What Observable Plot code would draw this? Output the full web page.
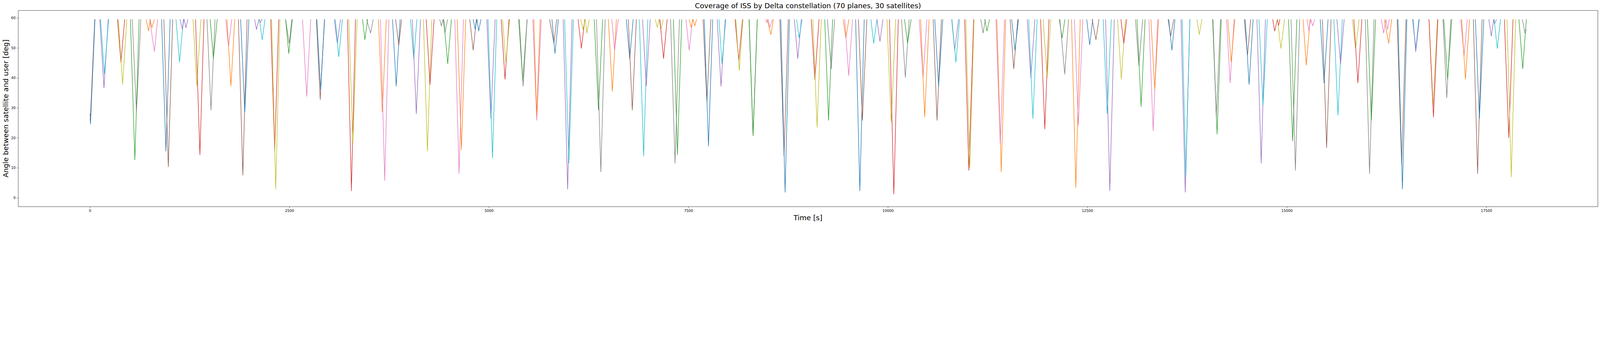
<!DOCTYPE html>
<html>
<head>
<meta charset="utf-8">
<script src="https://cdn.jsdelivr.net/npm/d3@7"></script>
<script src="https://cdn.jsdelivr.net/npm/@observablehq/plot@0.6"></script>
<style>
html, body { margin: 0; padding: 0; background: #fff; }
svg { display: block; font-family: "DejaVu Sans", sans-serif; }
</style>
</head>
<body>
<div id="chart"></div>
<script>
// ---- texts ----
const titleText = "Coverage of ISS by Delta constellation (70 planes, 30 satellites)";
const xLabelText = "Time [s]";
const yLabelText = "Angle between satellite and user [deg]";

// ---- ticks ----
const xTicks = [0, 2500, 5000, 7500, 10000, 12500, 15000, 17500];
const yTicks = [0, 10, 20, 30, 40, 50, 60];

// ---- colour categories (matplotlib tab10 cycle) ----
const colorNames = ["blue", "orange", "green", "red", "purple", "brown", "pink", "gray", "olive", "cyan"];
const colorHex = ["#1f77b4", "#ff7f0e", "#2ca02c", "#d62728", "#9467bd", "#8c564b", "#e377c2", "#7f7f7f", "#bcbd22", "#17becf"];

// ---- visibility passes: the angle enters at the 60° rim, dips to a minimum, leaves at the rim ----
const rimAngle = 59.6;

const passColor = [
  "brown","blue","purple","cyan","red","olive","green","gray","orange","orange","pink","blue","brown","cyan","purple","purple","olive","red","gray","green","pink","orange","brown","blue","purple","purple","cyan","red","olive","gray","green","pink","brown","blue",
  "purple","cyan","red","olive","green","gray","orange","pink","blue","brown","cyan","purple","olive","red","gray","gray","green","pink","orange","brown","blue","blue","purple","cyan","red","olive","green","gray","pink","orange","brown","blue","purple","cyan","red","olive","olive","green","gray","orange","pink","blue","brown","cyan","purple",
  "olive","olive","red","gray","green","pink","orange","orange","brown","blue","purple","cyan","red","olive","gray","green","pink","pink","orange","brown","blue","purple","cyan","red","olive","green","gray","orange","pink","blue","brown","cyan","purple","olive","red","gray","green","pink","orange","brown","blue","purple","cyan","red","olive",
  "gray","green","orange","pink","brown","blue","purple","cyan","red","olive","green","gray","orange","pink","blue","brown","cyan","purple","olive","red","gray","green","pink","orange","brown","blue","purple","cyan","olive","green","gray","pink","orange","brown","blue","purple","cyan","red","red","olive",
  "green","gray","orange","pink","pink","blue","brown","cyan","purple","olive","red","gray","green","pink","pink","orange","brown","blue","cyan","purple","olive","red","gray","green","pink","orange","brown","blue","purple","purple","cyan","red","olive","green","gray"
];

const passStart = [
  0,0,121,131,343,354,505,528,702,750,747,896,924,1076,1126,1179,1290,1321,1465,1505,1700,1715,1859,1886,2061,2116,2121,2263,2275,2450,2450,2662,2836,2841,
  3060,3073,3225,3242,3414,3465,3614,3639,3790,3828,4015,4038,4177,4212,4381,4424,4432,4571,4601,4758,4801,4848,4972,4987,5152,5169,5371,5379,5548,5561,5758,5788,5929,5947,6116,6149,6205,6318,6346,6495,6538,6720,6745,6884,6924,
  7083,7131,7141,7275,7311,7467,7508,7556,7682,7697,7859,7881,8083,8093,8258,8260,8465,8497,8485,8644,8657,8826,8854,9038,9058,9207,9240,9437,9457,9594,9629,9785,9861,9987,10018,10169,10207,10391,10409,10566,10586,10798,10801,10960,10975,
  11162,11212,11364,11353,11530,11550,11745,11763,11912,11944,12146,12154,12300,12336,12490,12558,12697,12727,12876,12919,13101,13121,13270,13295,13510,13518,13672,13687,13871,14068,14073,14242,14258,14465,14477,14624,14649,14821,14881,14881,
  15020,15051,15202,15250,15298,15417,15444,15588,15626,15818,15838,15982,16008,16182,16240,16220,16381,16391,16573,16581,16780,16780,16955,16965,17177,17189,17336,17361,17530,17591,17596,17725,17758,17907,17950
];

const passMinTime = [
  3,5,174,179,386,407,561,581,732,775,806,950,980,1121,1157,1200,1338,1376,1515,1545,1735,1765,1914,1939,2086,2131,2157,2313,2326,2495,2490,2715,2884,2889,
  3098,3116,3275,3293,3444,3515,3662,3692,3836,3869,4056,4088,4227,4260,4402,4447,4482,4624,4654,4801,4826,4869,5023,5043,5200,5210,5422,5427,5598,5596,5813,5826,5985,6000,6157,6177,6225,6371,6401,6545,6573,6763,6795,6937,6970,
  7109,7154,7187,7331,7361,7508,7533,7578,7730,7750,7907,7919,8129,8136,8308,8309,8480,8520,8533,8697,8710,8869,8886,9083,9111,9255,9288,9472,9508,9647,9679,9821,9899,10040,10073,10217,10245,10439,10460,10614,10634,10836,10851,11013,11025,
  11192,11240,11419,11407,11576,11591,11790,11816,11965,11995,12182,12215,12354,12386,12528,12606,12747,12780,12924,12955,13144,13172,13323,13343,13543,13558,13725,13732,13902,14124,14114,14288,14301,14505,14525,14677,14700,14846,14894,14924,
  15071,15106,15242,15275,15323,15465,15497,15639,15672,15861,15889,16035,16058,16212,16260,16275,16437,16447,16616,16614,16831,16836,17003,17013,17220,17237,17389,17412,17561,17601,17636,17780,17811,17955,17982
];

const passMinAngle = [
  26.4,24.7,36.7,41.3,45.3,37.9,12.7,28.7,55.7,56.9,48.8,15.6,10.4,45.3,56.2,56.8,37.4,14.4,29.3,46.5,50.5,37.4,7.6,28.7,56.2,58.5,52.8,15.6,2.9,51.6,48.2,33.9,32.8,36.2,
  51.6,47.1,2.4,18.4,52.8,55.0,28.7,5.8,37.3,51.0,46.4,28.1,15.6,37.9,57.4,55.0,44.8,8.1,16.1,49.3,56.2,55.7,26.5,13.3,39.6,45.3,39.1,37.3,25.9,27.6,51.6,48.2,2.9,11.6,49.9,56.2,55.0,29.3,8.7,35.6,49.3,46.4,29.3,13.9,37.3,
  56.9,56.2,46.5,11.6,14.4,49.3,56.9,57.4,32.2,17.3,37.3,44.8,45.9,42.5,20.8,20.9,58.5,56.9,54.5,13.9,1.9,46.5,53.4,39.6,23.6,25.9,43.1,53.4,40.8,2.4,25.9,51.6,52.2,25.3,1.3,40.2,51.6,40.2,27.0,25.9,37.2,49.3,45.3,9.2,10.0,
  55.0,55.7,8.7,17.9,43.1,49.3,40.2,26.5,23.0,40.2,53.4,41.3,3.5,24.2,51.1,52.8,28.1,2.4,39.6,51.6,44.2,30.5,22.4,36.2,54.0,49.3,1.9,7.0,54.5,21.3,27.0,38.4,45.3,47.6,37.9,11.6,31.0,55.7,57.5,49.9,
  19.0,9.2,44.3,55.7,57.4,38.4,16.8,27.6,44.8,49.9,38.4,8.1,25.9,55.0,56.2,51.6,11.0,3.0,49.9,48.8,30.5,27.0,33.4,39.6,47.6,39.6,8.1,26.5,54.0,58.0,49.9,20.1,7.0,43.1,55.0
];

const passEnd = [
  58,61,227,232,434,460,614,636,755,806,846,1003,1035,1169,1174,1225,1389,1427,1566,1593,1775,1813,1967,1990,2116,2154,2192,2364,2379,2528,2535,2765,2937,2939,
  3139,3162,3326,3346,3477,3548,3712,3745,3886,3904,4096,4141,4283,4311,4424,4480,4528,4679,4707,4841,4848,4899,5076,5096,5250,5258,5477,5477,5654,5641,5848,5869,6040,6058,6200,6205,6255,6424,6455,6596,6619,6806,6846,6990,7020,
  7131,7184,7232,7386,7414,7551,7556,7601,7780,7803,7960,7967,8177,8182,8361,8362,8497,8551,8563,8750,8765,8914,8922,9136,9164,9306,9331,9510,9556,9702,9735,9861,9937,10096,10129,10265,10290,10487,10515,10669,10687,10884,10897,11073,11078,
  11220,11273,11475,11460,11626,11636,11841,11869,12018,12040,12217,12263,12409,12442,12566,12644,12798,12836,12975,12992,13192,13222,13379,13391,13581,13596,13783,13783,13934,14177,14167,14338,14346,14546,14576,14730,14753,14881,14912,14970,
  15124,15159,15290,15298,15348,15515,15553,15694,15717,15904,15939,16091,16111,16240,16283,16313,16492,16503,16652,16659,16886,16891,17053,17066,17260,17288,17445,17467,17591,17626,17677,17833,17866,18000,18000
];

// passes already in view at t = 0, and the one still in view when the run stops
const passStartAngle = { 0: 28.2, 1: 26.5 };
const passEndAngle = { 198: 56.3 };

// ---- build rows for the line mark (category keys prefixed so they are not read as CSS colours) ----
const rows = [];
passColor.forEach((c, i) => {
  const a0 = (i in passStartAngle) ? passStartAngle[i] : rimAngle;
  const a1 = (i in passEndAngle) ? passEndAngle[i] : rimAngle;
  const key = "tab:" + c;
  rows.push({ id: i, color: key, t: passStart[i], a: a0 });
  rows.push({ id: i, color: key, t: passMinTime[i], a: passMinAngle[i] });
  rows.push({ id: i, color: key, t: passEnd[i], a: a1 });
});

const W = 6280, H = 877;
const mL = 71.3, mR = 8.7, mT = 40.7, mB = 67;

const chart = Plot.plot({
  width: W,
  height: H,
  marginLeft: mL,
  marginRight: mR,
  marginTop: mT,
  marginBottom: mB,
  style: { fontFamily: "DejaVu Sans", fontSize: "13.9px", background: "#fff", color: "#000", overflow: "visible" },
  x: { domain: [-900, 18897], label: null },
  y: { domain: [-2.94, 62.54], label: null },
  color: { type: "ordinal", domain: colorNames.map(c => "tab:" + c), range: colorHex },
  marks: [
    Plot.line(rows, { x: "t", y: "a", z: "id", stroke: "color", strokeWidth: 2.08, strokeLinejoin: "round", strokeLinecap: "butt" }),
    Plot.frame({ stroke: "#000", strokeWidth: 1.1 }),
    Plot.axisX({ ticks: xTicks, tickSize: 4.9, tickPadding: 6, fontSize: 13.9, label: null, tickFormat: d => String(d), strokeWidth: 1.1 }),
    Plot.axisY({ ticks: yTicks, tickSize: 4.9, tickPadding: 5.4, fontSize: 13.9, label: null, tickFormat: d => String(d), strokeWidth: 1.1 })
  ]
});

document.getElementById("chart").appendChild(chart);

const svg = d3.select(chart);
const cx = mL + (W - mL - mR) / 2;
const cy = mT + (H - mT - mB) / 2;

svg.append("text")
  .attr("x", cx).attr("y", 32.4)
  .attr("text-anchor", "middle")
  .attr("font-family", "DejaVu Sans")
  .attr("font-size", "27.8px")
  .attr("fill", "#000")
  .text(titleText);

svg.append("text")
  .attr("x", cx).attr("y", 863)
  .attr("text-anchor", "middle")
  .attr("font-family", "DejaVu Sans")
  .attr("font-size", "27.8px")
  .attr("fill", "#000")
  .text(xLabelText);

svg.append("text")
  .attr("transform", `translate(32,${cy}) rotate(-90)`)
  .attr("text-anchor", "middle")
  .attr("font-family", "DejaVu Sans")
  .attr("font-size", "27.8px")
  .attr("fill", "#000")
  .text(yLabelText);
</script>
</body>
</html>
